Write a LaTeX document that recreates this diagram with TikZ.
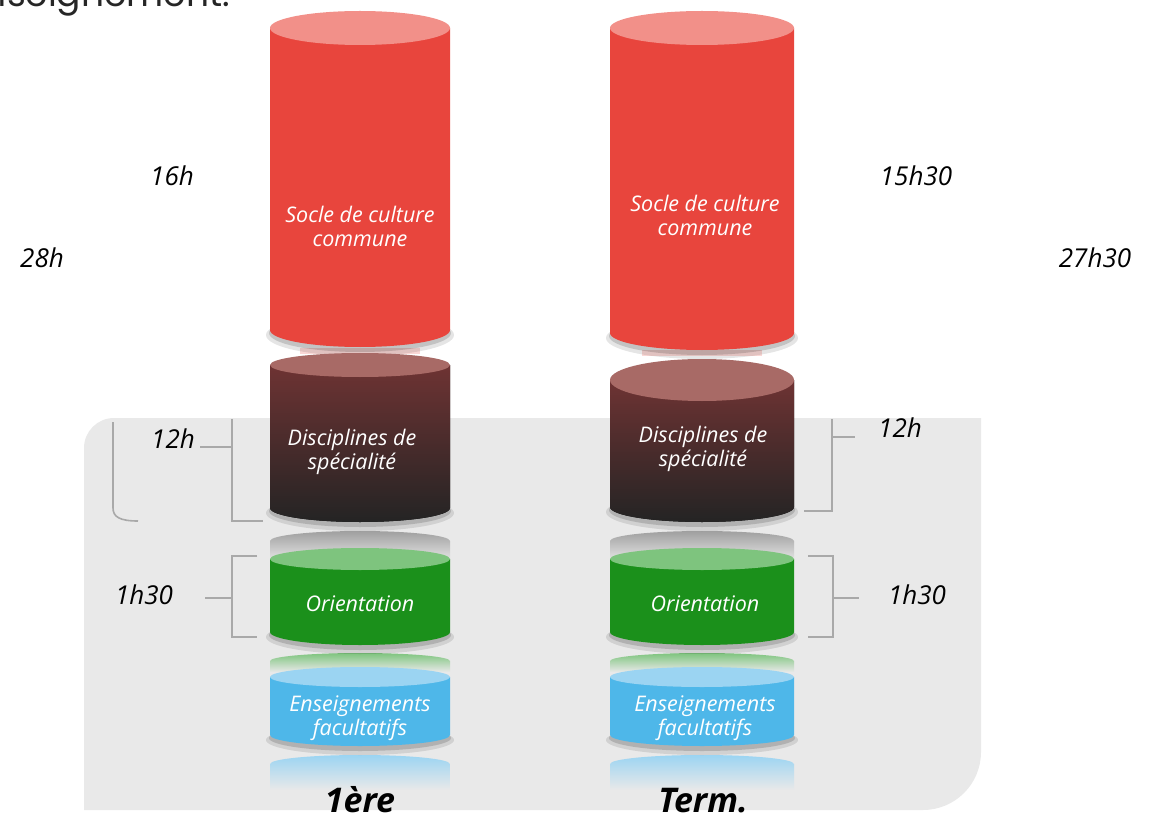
\documentclass[tikz,border=0pt]{standalone}
\usepackage{fontspec}
\setmainfont{Open Sans}
\newfontfamily\topfont{Poppins}
\definecolor{panel}{HTML}{E9E9E9}
\definecolor{brkgray}{HTML}{A9A9A9}
\definecolor{redbody}{HTML}{E8453D}
\definecolor{redcap}{HTML}{F29089}
\definecolor{darktop}{HTML}{6E3333}
\definecolor{darkmid}{HTML}{352929}
\definecolor{darkbot}{HTML}{242424}
\definecolor{darkcap}{HTML}{A86A66}
\definecolor{greenbody}{HTML}{1B901B}
\definecolor{greencap}{HTML}{7EC47E}
\definecolor{bluebody}{HTML}{4EB7E9}
\definecolor{bluecap}{HTML}{9BD4F2}
% cylinder: x, x radius, top y, top y radius, bottom y, bottom y radius, body fill, cap colour
\newcommand{\cyl}[8]{%
	\fill[black, opacity=0.10] (#1,#5+5) ellipse [x radius=#2+4, y radius=#6+4];
	\fill[black, opacity=0.15] (#1,#5+3) ellipse [x radius=#2+1, y radius=#6+2];
	\fill[#7] (#1-#2,#3) -- (#1-#2,#5) arc [start angle=180, end angle=0, x radius=#2, y radius=#6] -- (#1+#2,#3) -- cycle;
	\fill[#8] (#1,#3) ellipse [x radius=#2, y radius=#4];
}
% reflection: x, x radius, top y, y radius, bottom y, colour
\newcommand{\refl}[6]{%
	\shade[top color=#6, bottom color=panel] (#1-#2,#3) arc [start angle=180, end angle=360, x radius=#2, y radius=#4] -- (#1+#2,#5) -- (#1-#2,#5) -- cycle;
}
\begin{document}
\begin{tikzpicture}[x=1pt, y=-1pt,
	inner/.style={text=white, font=\itshape\fontsize{21.5}{24}\selectfont, align=center},
	hours/.style={font=\itshape\fontsize{26}{30}\selectfont},
	year/.style={font=\bfseries\itshape\fontsize{34}{40}\selectfont, anchor=base},
	brk/.style={draw=brkgray, line width=1.6}]
	\useasboundingbox (0,0) rectangle (1153,818);
	\begin{scope}
		\clip (0,0) rectangle (1153,818);
		\node (titre) at (230,7) [anchor=base east, inner sep=0, text=black!85, font=\topfont\fontsize{36}{44}\selectfont] {enseignement.};
	\end{scope}

	% grey panel
	\fill[panel] (84,810) -- (84,448) arc [start angle=180, end angle=270, radius=30] -- (981,418) -- (981,752) arc [start angle=0, end angle=90, radius=58] -- cycle;

	% reflections
	\fill[redcap, opacity=0.35] (300,348) rectangle (420,354);
	\fill[redcap, opacity=0.35] (642,350) rectangle (762,356);
	\refl{360}{90}{541}{10}{562}{gray!75}
	\refl{702}{92}{541}{10}{562}{gray!75}
	\refl{360}{90}{661}{8}{672}{greencap}
	\refl{702}{92}{661}{8}{672}{greencap}
	\refl{360}{90}{764}{9}{790}{bluecap}
	\refl{702}{92}{764}{9}{790}{bluecap}

	% cylinders
	\cyl{360}{90}{28}{17}{330}{17}{redbody}{redcap}
	\cyl{702}{92}{28}{17}{333}{17}{redbody}{redcap}
	\cyl{360}{90}{365}{12}{508}{14}{top color=darktop, middle color=darkmid, bottom color=darkbot}{darkcap}
	\cyl{702}{92}{380}{21}{507}{15}{top color=darktop, middle color=darkmid, bottom color=darkbot}{darkcap}
	\cyl{360}{90}{559}{11}{632}{13}{greenbody}{greencap}
	\cyl{702}{92}{559}{11}{632}{13}{greenbody}{greencap}
	\cyl{360}{90}{677}{10}{735}{11}{bluebody}{bluecap}
	\cyl{702}{92}{677}{10}{735}{11}{bluebody}{bluecap}

	\node (socleA) at (360,226)	[inner]	{Socle de culture\\commune};
	\node (socleB) at (705,215)	[inner]	{Socle de culture\\commune};
	\node (discA) at (352,452)	[inner]	{Disciplines de\\spécialité};
	\node (discB) at (703,449)	[inner]	{Disciplines de\\spécialité};
	\node (orA) at (360,604)	[inner]	{Orientation};
	\node (orB) at (705,604)	[inner]	{Orientation};
	\node (ensA) at (360,718)	[inner]	{Enseignements\\facultatifs};
	\node (ensB) at (705,718)	[inner]	{Enseignements\\facultatifs};

	% hours
	\node (h16) at (172,176)	[hours]	{16h};
	\node (h28) at (42,258)	[hours]	{28h};
	\node (h1530) at (916,176)	[hours]	{15h30};
	\node (h2730) at (1095,258)	[hours]	{27h30};
	\node (h12a) at (173,439)	[hours]	{12h};
	\node (h12b) at (900,428)	[hours]	{12h};
	\node (h130a) at (144,595)	[hours]	{1h30};
	\node (h130b) at (917,595)	[hours]	{1h30};

	% brackets
	\coordinate (b12a) at (232,447);
	\coordinate (t12a) at (200,447);
	\coordinate (b12b) at (832,437);
	\coordinate (t12b) at (855,437);
	\coordinate (b130a) at (232,598);
	\coordinate (t130a) at (205,598);
	\coordinate (b130b) at (833,598);
	\coordinate (t130b) at (859,598);
	\draw[brk] (113,422) -- (113,508) .. controls (113,517) and (120,521) .. (138,521);
	\draw[brk] (232,419) -- (232,521) -- (263,521);
	\draw[brk] (832,419) -- (832,511) -- (804,511);
	\draw[brk] (257,556) -- (232,556) -- (232,637) -- (257,637);
	\draw[brk] (808,556) -- (833,556) -- (833,637) -- (808,637);
	\draw[brk] (t12a) -- (b12a);
	\draw[brk] (b12b) -- (t12b);
	\draw[brk] (t130a) -- (b130a);
	\draw[brk] (b130b) -- (t130b);

	\node (premiere) at (360,812)	[year]	{1ère};
	\node (terminale) at (703,812)	[year]	{Term.};
\end{tikzpicture}
\end{document}
